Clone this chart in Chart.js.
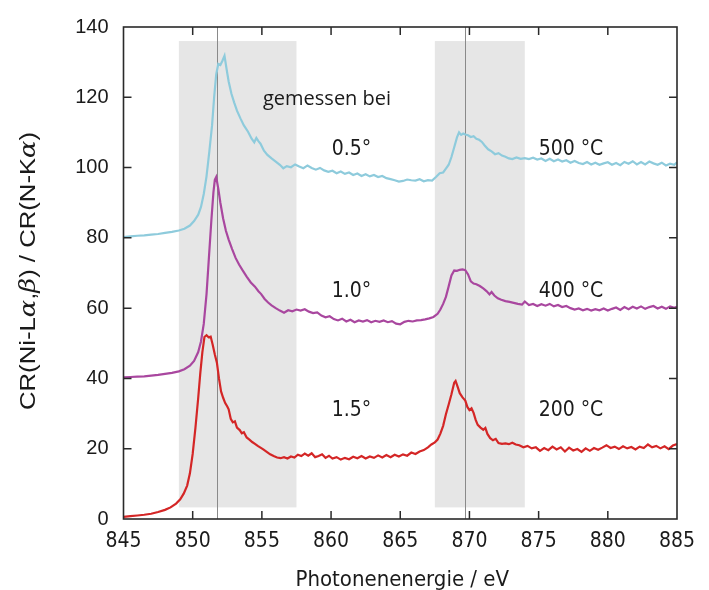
<!DOCTYPE html>
<html><head><meta charset="utf-8">
<script src="https://cdn.jsdelivr.net/npm/chart.js@4/dist/chart.umd.min.js"></script>
<style>html,body{margin:0;padding:0;background:#fff}#wrap{width:709px;height:590px}</style>
</head><body><div id="wrap"><canvas id="c" width="709" height="590"></canvas></div>
<script>
// ---- data (photon energy in eV, count-rate ratio) ----
const spec500 = [[845,80.2],[845.5,80.4],[846,80.6],[846.5,80.7],[847,80.9],[847.5,81.1],[848,81.4],[848.5,81.7],[849,82.1],[849.4,82.6],[849.8,83.5],[850.1,84.8],[850.4,86.6],[850.6,88.8],[850.8,92.5],[851,97.5],[851.2,104.5],[851.4,112],[851.55,120],[851.7,126.5],[851.85,129.5],[852,129.2],[852.15,130.4],[852.3,131.8],[852.45,128],[852.6,124.5],[852.8,121],[853,118.5],[853.2,116.2],[853.45,114],[853.7,112],[854,110.2],[854.25,108.3],[854.45,107.2],[854.6,108.4],[854.75,107.5],[854.9,106.8],[855.15,104.8],[855.4,103.6],[855.7,102.6],[856,101.7],[856.3,100.8],[856.55,99.8],[856.8,100.4],[857.1,100.1],[857.4,100.9],[857.7,100.3],[858,99.8],[858.3,100.6],[858.6,99.9],[858.9,99.4],[859.2,99.9],[859.5,99.2],[859.8,98.8],[860.1,99.1],[860.4,98.4],[860.7,98.9],[861,98.2],[861.3,98.6],[861.6,97.9],[861.9,98.3],[862.2,97.6],[862.5,98.1],[862.8,97.5],[863.1,97.9],[863.4,97.3],[863.7,97.6],[864,97],[864.3,96.7],[864.6,96.4],[864.9,96],[865.2,96.2],[865.5,96.6],[865.8,96.4],[866.1,96.3],[866.4,96.7],[866.7,96.1],[867,96.4],[867.3,96.3],[867.6,97.4],[867.85,98.4],[868.1,98.6],[868.3,99.7],[868.5,100.8],[868.7,103],[868.9,105.8],[869.1,108.6],[869.25,110],[869.4,109.3],[869.55,109.7],[869.7,109.4],[869.9,109.2],[870.1,108.7],[870.3,108.9],[870.5,108.2],[870.7,107.9],[870.9,107.3],[871.1,106.3],[871.35,105.2],[871.6,104.6],[871.85,103.8],[872.1,104.1],[872.35,103.4],[872.6,103.1],[872.85,102.6],[873.1,102.4],[873.4,102.9],[873.7,102.5],[874,102.7],[874.3,102.4],[874.6,102.8],[874.9,102.3],[875.2,102.6],[875.5,101.9],[875.8,102.5],[876.1,101.8],[876.4,102.3],[876.7,101.7],[877,102.1],[877.3,101.4],[877.6,101.9],[877.9,101.3],[878.2,101],[878.5,101.6],[878.8,100.9],[879.1,101.4],[879.4,100.8],[879.7,101.2],[880,101.5],[880.3,100.8],[880.6,101.3],[880.9,100.7],[881.2,101.6],[881.5,101.1],[881.8,101.8],[882.1,100.9],[882.4,101.6],[882.7,100.9],[883,101.7],[883.3,101.2],[883.6,100.8],[883.9,101.4],[884.2,100.6],[884.5,101.1],[884.8,100.8],[885,101.5]];

const spec400 = [[845,40.3],[845.5,40.4],[846,40.5],[846.5,40.6],[847,40.8],[847.5,41],[848,41.3],[848.5,41.6],[849,42],[849.4,42.6],[849.8,43.6],[850.1,45],[850.4,47.5],[850.6,50.5],[850.8,55.5],[851,64],[851.2,76],[851.35,85],[851.5,93],[851.6,96.5],[851.7,97.3],[851.85,94],[852,90],[852.2,85.5],[852.4,82],[852.6,79.5],[852.85,76.8],[853.1,74.3],[853.35,72.4],[853.6,70.8],[853.9,69],[854.2,67.3],[854.5,66.1],[854.75,64.8],[854.95,64],[855.2,62.6],[855.45,61.6],[855.7,60.8],[856,60],[856.3,59.3],[856.6,58.7],[856.9,59.4],[857.2,59.1],[857.5,59.6],[857.8,59.3],[858.1,59.7],[858.4,59],[858.7,58.6],[859,58.8],[859.3,57.9],[859.6,57.4],[859.9,57.7],[860.2,56.9],[860.5,56.5],[860.8,57],[861.1,56.2],[861.4,56.7],[861.7,56],[862,56.5],[862.3,56.2],[862.6,56.6],[862.9,56],[863.2,56.4],[863.5,56.1],[863.8,56.5],[864.1,56],[864.4,56.3],[864.7,55.6],[865,55.4],[865.3,56.1],[865.6,56.4],[865.9,56.2],[866.2,56.5],[866.5,56.6],[866.8,56.8],[867.1,57.1],[867.4,57.5],[867.7,58.4],[867.9,59.6],[868.1,61.2],[868.3,63.2],[868.5,66.2],[868.7,69.3],[868.9,70.7],[869.1,70.6],[869.3,70.9],[869.5,71],[869.7,70.8],[869.9,69.6],[870.1,67.6],[870.3,67],[870.5,66.8],[870.75,66.3],[871,65.6],[871.25,64.8],[871.45,63.9],[871.6,64.6],[871.8,63.6],[872.05,62.8],[872.3,62.4],[872.6,62],[872.9,61.8],[873.2,61.5],[873.5,61.2],[873.8,61],[874,61.9],[874.3,60.9],[874.6,61.2],[874.9,60.6],[875.2,61.1],[875.5,60.7],[875.8,61.2],[876.1,60.5],[876.4,60.9],[876.7,60.3],[877,60.6],[877.3,60],[877.6,59.6],[877.9,59.9],[878.2,59.4],[878.5,59.8],[878.8,59.3],[879.1,59.7],[879.4,59.4],[879.7,59.9],[880,59.3],[880.3,59.8],[880.6,60.2],[880.9,59.5],[881.2,60.3],[881.5,59.7],[881.8,60.4],[882.1,59.9],[882.4,60.5],[882.7,59.8],[883,60.3],[883.3,60.6],[883.6,59.9],[883.9,60.4],[884.2,59.8],[884.5,60.5],[884.8,60.1],[885,60.4]];

const spec200 = [[845,0.6],[845.5,0.8],[846,1],[846.5,1.2],[847,1.5],[847.5,2],[848,2.6],[848.4,3.3],[848.8,4.4],[849.1,5.6],[849.35,7.2],[849.6,9.5],[849.8,13],[850,18.5],[850.2,26],[850.4,34.5],[850.55,41.5],[850.7,47.5],[850.85,51.8],[851,52.3],[851.15,51.7],[851.3,51.9],[851.45,49.5],[851.6,46.8],[851.75,44.5],[851.9,40],[852.05,36.3],[852.2,34.5],[852.35,33],[852.5,32],[852.6,31.2],[852.75,28.5],[852.9,27.5],[853.05,27.8],[853.2,26],[853.4,25.3],[853.55,24.4],[853.7,24.7],[853.9,23.2],[854.1,22.6],[854.3,21.9],[854.5,21.4],[854.7,20.8],[854.9,20.3],[855.1,19.8],[855.35,19.1],[855.6,18.4],[855.85,17.9],[856.1,17.5],[856.35,17.3],[856.6,17.6],[856.85,17.2],[857.1,17.8],[857.35,17.5],[857.6,18.3],[857.85,17.9],[858.1,18.6],[858.35,18],[858.6,18.7],[858.85,17.6],[859.1,17.9],[859.35,18.4],[859.6,17.4],[859.85,18],[860.1,17.2],[860.4,17.6],[860.7,16.9],[861,17.4],[861.3,17],[861.6,17.7],[861.9,17.3],[862.2,17.9],[862.5,17.2],[862.8,17.8],[863.1,17.4],[863.4,18.1],[863.7,17.5],[864,18.2],[864.3,17.6],[864.6,18.3],[864.9,17.8],[865.2,18.4],[865.5,18],[865.8,18.9],[866.1,18.5],[866.4,19.2],[866.7,19.6],[867,20.4],[867.25,21.2],[867.5,21.8],[867.7,22.6],[867.9,24.3],[868.1,26.5],[868.3,29.8],[868.5,32.6],[868.7,35.5],[868.9,38.8],[869,39.3],[869.15,37.6],[869.3,35.8],[869.5,34.6],[869.7,33.7],[869.85,31.9],[870,31],[870.15,31.5],[870.3,30.2],[870.45,28.2],[870.6,26.8],[870.8,26],[871,25.4],[871.15,25.9],[871.3,24.2],[871.5,23],[871.7,22.4],[871.9,22.8],[872.1,21.6],[872.35,21.4],[872.6,21.5],[872.85,21.3],[873.1,21.7],[873.35,21.2],[873.6,21],[873.9,20.4],[874.2,20.8],[874.5,20.1],[874.8,20.4],[875.1,19.4],[875.4,20.2],[875.7,19.6],[876,20.6],[876.3,19.8],[876.6,20.4],[876.9,19.2],[877.2,20.3],[877.5,19.5],[877.8,19.9],[878.1,19.1],[878.4,20.1],[878.7,19.4],[879,20.2],[879.3,19.7],[879.6,20.3],[879.9,21],[880.2,20.2],[880.5,20.6],[880.8,19.9],[881.1,20.7],[881.4,20.1],[881.7,20.5],[882,19.8],[882.3,20.6],[882.6,20.2],[882.9,21.2],[883.2,20.4],[883.5,20.8],[883.8,20.1],[884.1,20.7],[884.4,19.9],[884.7,20.9],[885,21.3]];

const xTicks = [845, 850, 855, 860, 865, 870, 875, 880, 885];
const yTicks = [0, 20, 40, 60, 80, 100, 120, 140];
const bandRanges = [[849.0, 857.5], [867.5, 874.0]];   // shaded eV windows
const bandLimits = [3.3, 136];                         // shaded band bottom/top
const refLines = [851.75, 869.7];                      // vertical reference lines (eV)
const angleLabels = ['0.5°', '1.0°', '1.5°'];
const tempLabels = ['500 °C', '400 °C', '200 °C'];
const labelLevels = [105.2, 64.8, 30.8];
const headerText = 'gemessen bei';

// ---- styling ----
const COND = "'Liberation Sans Narrow', 'DejaVu Sans Condensed', 'Liberation Sans', sans-serif";
const SANS = "'Liberation Sans', Arial, sans-serif";
const colors = ['#8ecbdc', '#a9479f', '#d42626'];

const toXY = arr => arr.map(p => ({x: p[0], y: p[1]}));

const decor = {
  id: 'decor',
  beforeDatasetsDraw(chart) {
    const {ctx, scales: {x, y}} = chart;
    ctx.save();
    ctx.fillStyle = '#e6e6e6';
    bandRanges.forEach(([a, b]) => {
      const x0 = x.getPixelForValue(a), x1 = x.getPixelForValue(b);
      const y0 = y.getPixelForValue(bandLimits[1]), y1 = y.getPixelForValue(bandLimits[0]);
      ctx.fillRect(x0, y0, x1 - x0, y1 - y0);
    });
    ctx.strokeStyle = '#8a8a8a';
    ctx.lineWidth = 1;
    refLines.forEach(v => {
      const px = Math.round(x.getPixelForValue(v)) + 0.5;
      ctx.beginPath();
      ctx.moveTo(px, y.getPixelForValue(140));
      ctx.lineTo(px, y.getPixelForValue(0));
      ctx.stroke();
    });
    ctx.restore();
  },
  afterDraw(chart) {
    const {ctx, chartArea: ca, scales: {x, y}} = chart;
    ctx.save();
    // frame
    ctx.strokeStyle = '#2a2a2a';
    ctx.lineWidth = 1.6;
    ctx.strokeRect(ca.left, ca.top, ca.right - ca.left, ca.bottom - ca.top);
    // inward ticks
    const tl = 8;
    ctx.lineWidth = 1.5;
    ctx.beginPath();
    xTicks.slice(1, -1).forEach(v => {
      const px = x.getPixelForValue(v);
      ctx.moveTo(px, ca.bottom); ctx.lineTo(px, ca.bottom - tl);
      ctx.moveTo(px, ca.top); ctx.lineTo(px, ca.top + tl);
    });
    yTicks.slice(1, -1).forEach(v => {
      const py = y.getPixelForValue(v);
      ctx.moveTo(ca.left, py); ctx.lineTo(ca.left + tl, py);
      ctx.moveTo(ca.right, py); ctx.lineTo(ca.right - tl, py);
    });
    ctx.stroke();

    // annotations
    ctx.fillStyle = '#1a1a1a';
    ctx.textBaseline = 'middle';
    ctx.textAlign = 'left';
    ctx.font = "20px 'Open Sans', " + SANS;
    ctx.fillText(headerText, x.getPixelForValue(855.08), y.getPixelForValue(119.3));
    ctx.font = "21px " + COND;
    labelLevels.forEach((lv, i) => {
      const py = y.getPixelForValue(lv);
      ctx.fillText(angleLabels[i], x.getPixelForValue(860.05), py);
      ctx.fillText(tempLabels[i], x.getPixelForValue(875.0), py);
    });

    // x-axis title
    ctx.textAlign = 'center';
    ctx.font = "22px " + COND;
    ctx.fillText('Photonenenergie / eV', (ca.left + ca.right) / 2 + 2, 580);

    // y-axis title with italic greek letters
    const parts = [['CR(Ni-L', false], ['α', true], [',', false], ['β', true], [') / CR(N-K', false], ['α', true], [')', false]];
    const fN = "22px " + SANS, fI = "italic 22px 'DejaVu Serif', serif";
    let total = 0;
    parts.forEach(([t, it]) => { ctx.font = it ? fI : fN; total += ctx.measureText(t).width; });
    const targetLen = 278;
    ctx.translate(29, (ca.top + ca.bottom) / 2 - 2);
    ctx.rotate(-Math.PI / 2);
    ctx.scale(targetLen / total, 1);
    ctx.textAlign = 'left';
    let cx = -total / 2;
    parts.forEach(([t, it]) => { ctx.font = it ? fI : fN; ctx.fillText(t, cx, 0); cx += ctx.measureText(t).width; });
    ctx.restore();
  }
};

const mk = (label, data, color) => ({
  label, data: toXY(data), borderColor: color, backgroundColor: color,
  borderWidth: 2.2, pointRadius: 0, showLine: true, tension: 0, fill: false
});

new Chart(document.getElementById('c'), {
  type: 'scatter',
  data: {
    datasets: [
      mk(tempLabels[0], spec500, colors[0]),
      mk(tempLabels[1], spec400, colors[1]),
      mk(tempLabels[2], spec200, colors[2])
    ]
  },
  options: {
    responsive: false,
    animation: false,
    events: [],
    layout: {padding: {top: 24, right: 32, bottom: 0, left: 0}},
    plugins: {legend: {display: false}, tooltip: {enabled: false}},
    scales: {
      x: {
        type: 'linear', min: 845, max: 885,
        afterBuildTicks: s => { s.ticks = xTicks.map(v => ({value: v})); },
        afterFit: s => { s.height = 71; },
        grid: {display: false, drawTicks: false},
        border: {display: false},
        ticks: {color: '#1a1a1a', font: {family: COND, size: 21}, padding: 10, maxRotation: 0, autoSkip: false}
      },
      y: {
        type: 'linear', min: 0, max: 140,
        afterBuildTicks: s => { s.ticks = yTicks.map(v => ({value: v})); },
        afterFit: s => { s.width = 123.5; },
        grid: {display: false, drawTicks: false},
        border: {display: false},
        ticks: {color: '#1a1a1a', font: {family: SANS, size: 20}, padding: 15, autoSkip: false}
      }
    }
  },
  plugins: [decor]
});
</script>
</body></html>
